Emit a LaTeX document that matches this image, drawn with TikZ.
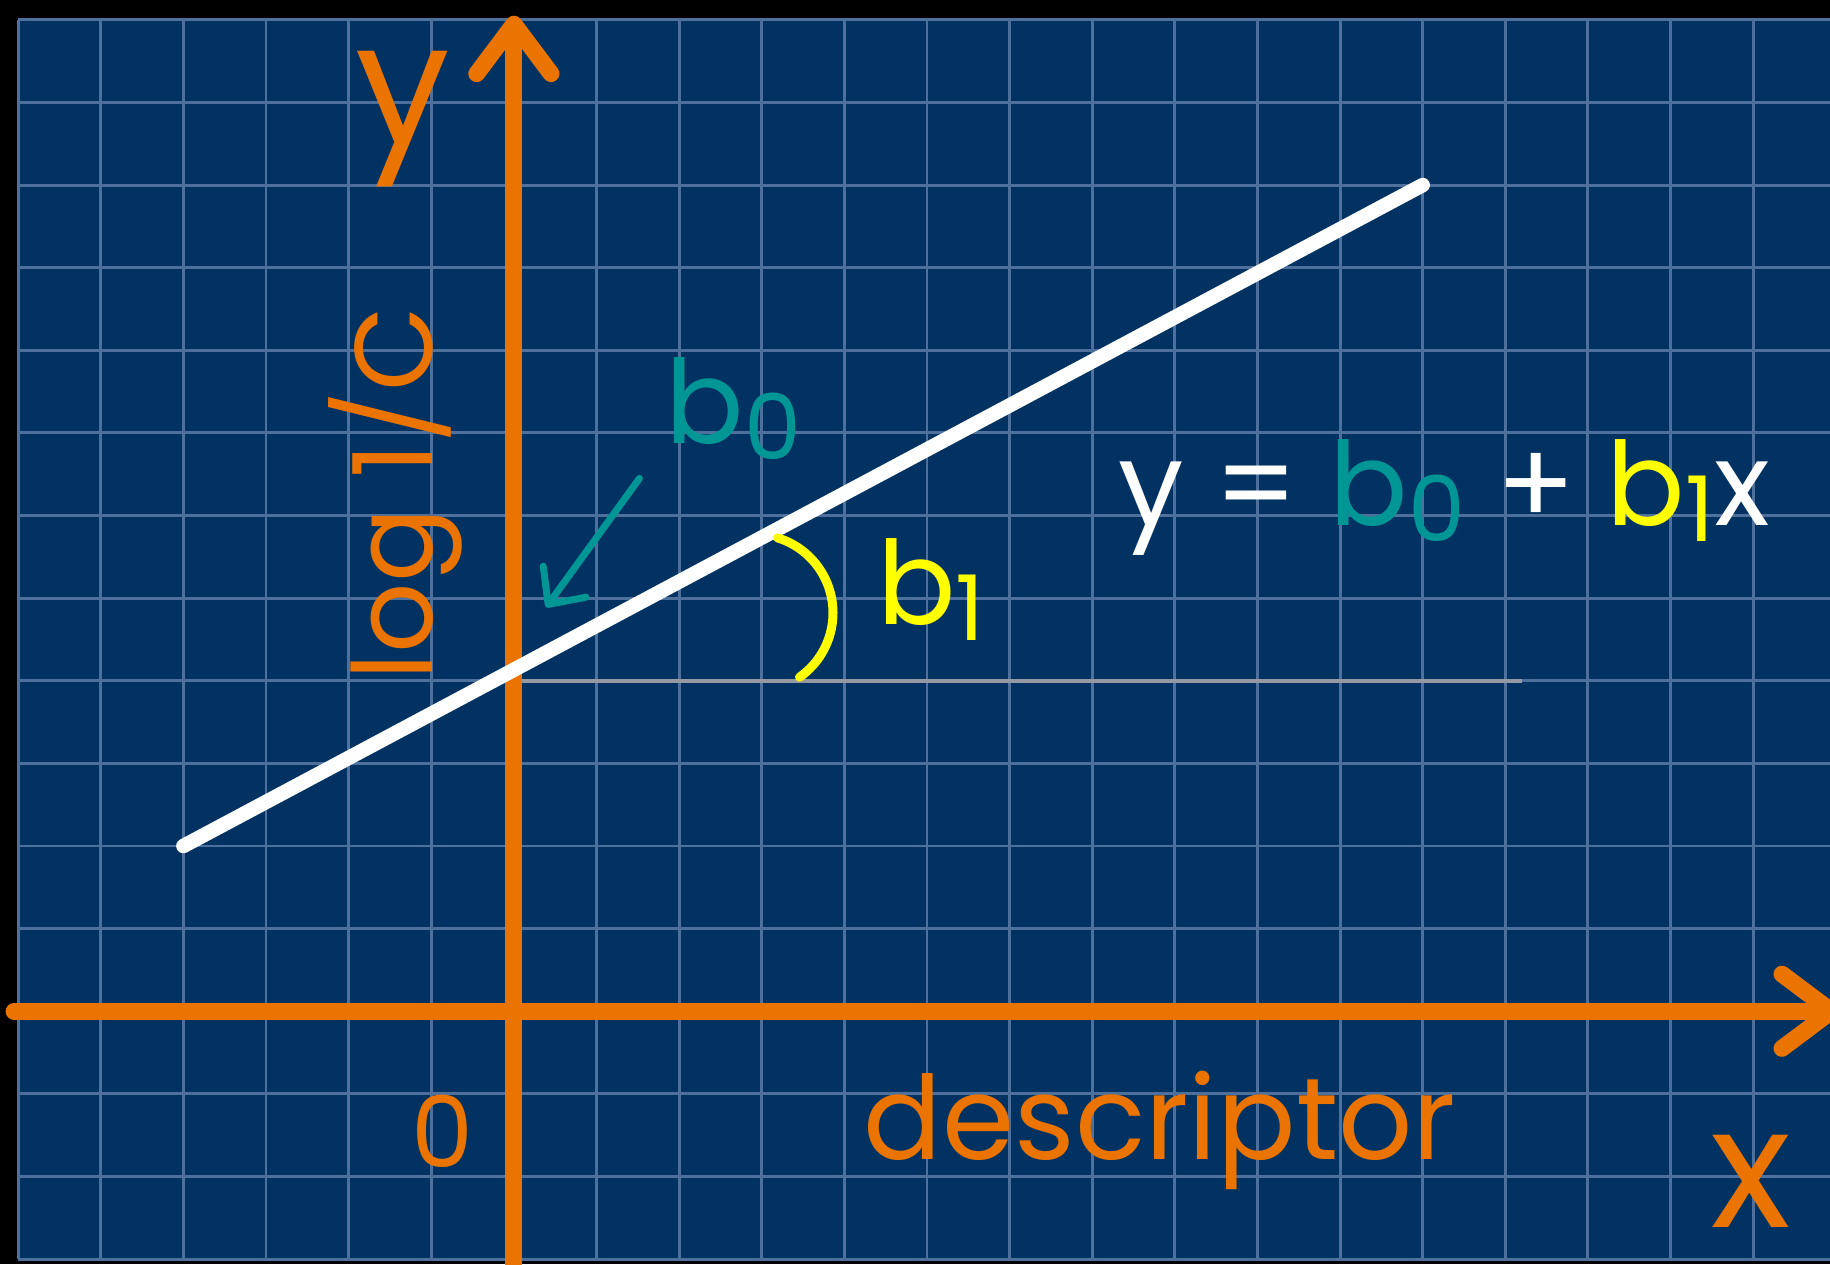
\documentclass[tikz,border=0pt]{standalone}
\usepackage{fontspec}
\usepackage{graphicx}
\setmainfont{Poppins}
\usetikzlibrary{arrows.meta}
\definecolor{boardblue}{RGB}{2,50,98}
\definecolor{gridblue}{RGB}{78,112,156}
\definecolor{axisorange}{RGB}{235,115,0}
\definecolor{interceptteal}{RGB}{0,150,150}
\definecolor{slopeyellow}{RGB}{255,255,0}
\definecolor{refgray}{RGB}{150,152,162}
\newcommand\subidx[1]{\raisebox{-0.14em}{\scalebox{0.78}{#1}}}
\begin{document}
\begin{tikzpicture}[
  axisline/.style={line width=5.8pt,axisorange,line cap=round,
    -{Straight Barb[length=6mm,width=9mm,line cap=round,line join=round]}},
  gridline/.style={gridblue,line width=1pt},
  lbl/.style={inner sep=0pt,font=\fontsize{40}{48}\selectfont},
  biglbl/.style={inner sep=0pt,font=\fontsize{58}{68}\selectfont,text=axisorange}
]
\fill[black] (-6.22,-3.06) rectangle (15.93,12.24);
\useasboundingbox (-6.22,-3.06) rectangle (15.93,12.24);
\clip (-6.22,-3.06) rectangle (15.93,12.24);
\fill[boardblue] (-6,-3) rectangle (15.93,12);
\draw[gridline,step=1] (-6,-3) grid (15.93,12);

\draw[refgray,line width=1.3pt] (0,4) -- (12.2,4);

\draw[axisline] (-6.05,0) -- (16.05,0);
\draw[axisline] (0,-3.3) -- (0,12.05);

\draw[white,line width=5pt,line cap=round] (-4,2) -- (11,10);

\draw[slopeyellow,line width=3.1pt,line cap=round] (3.19,5.73) arc[start angle=73,end angle=-55,radius=0.95];

\node[biglbl,anchor=base] (ylbl) at (-1.34,10.5) {y};
\node[biglbl,anchor=base] (xlbl) at (14.97,-2.62) {x};
\node[lbl,text=axisorange,rotate=90,anchor=base,font=\fontsize{38}{46}\selectfont] (loglbl) at (-0.99,6.27) {log 1/C};
\node[lbl,text=axisorange,anchor=base,font=\fontsize{34}{40}\selectfont] (zerolbl) at (-0.86,-1.89) {0};
\node[lbl,text=axisorange,anchor=base] (desclbl) at (7.82,-1.79) {descriptor};

\node[lbl,text=interceptteal,anchor=base west] (bzero) at (1.83,6.87) {b\subidx{0}};
\node[lbl,text=slopeyellow,anchor=base west] (bone) at (4.39,4.68) {b\subidx{1}};
\node[lbl,text=white,anchor=base west] (eqn) at (7.31,5.88)
  {y = {\color{interceptteal}b\subidx{0}} + {\color{slopeyellow}b\subidx{1}}x};

\coordinate (bzerofrom) at (1.52,6.45);
\coordinate (bzeroto) at (0.39,4.89);
\draw[interceptteal,line width=2.4pt,line cap=round,
  -{Straight Barb[length=3.4mm,width=6.4mm,line cap=round,line join=round]}] (bzerofrom) -- (bzeroto);
\end{tikzpicture}
\end{document}
